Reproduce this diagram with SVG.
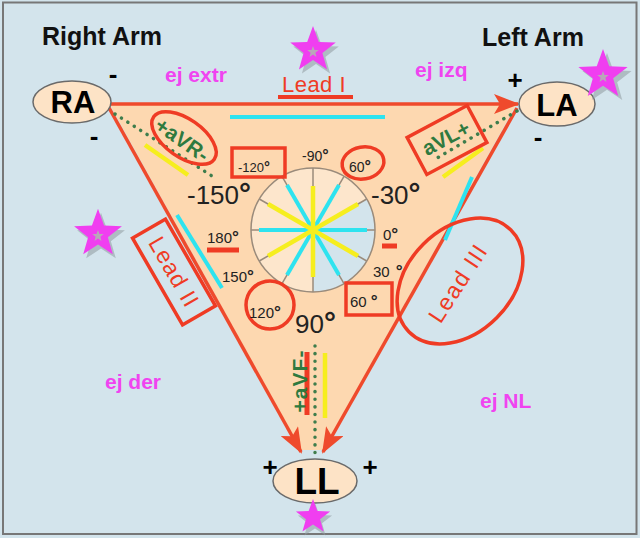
<svg xmlns="http://www.w3.org/2000/svg" width="640" height="538" viewBox="0 0 640 538">
<defs>
<style>
text { font-family: "Liberation Sans", Arial, sans-serif; }
.title { font-size: 25px; font-weight: bold; fill: #111; }
.node ellipse { fill: #fde3c6; stroke: #6a6a6a; stroke-width: 1.5; }
.nodelbl { font-weight: bold; fill: #000; text-anchor: middle; }
.sign { font-weight: bold; font-size: 26px; fill: #000; text-anchor: middle; }
.ej { font-size: 21px; font-weight: bold; fill: #f044f0; }
.redtxt { fill: #ef3b24; text-anchor: middle; }
.box { fill: none; stroke: #ef3b24; stroke-width: 3.5; }
.grn { fill: #2f7a3f; font-weight: bold; text-anchor: middle; }
.gdot { stroke: #3e7d4c; stroke-width: 3.5; stroke-dasharray: 0.1 7.5; stroke-linecap: round; fill: none; }
.cy { stroke: #2ee3ef; stroke-width: 4; }
.ye { stroke: #f6ee1e; stroke-width: 4.5; }
.spoke { stroke: #9a8b7b; stroke-width: 1.5; }
.deg { fill: #222; }
.o { font-weight: bold; font-size: 1.15em; }
.edge { stroke: #ef4a2c; stroke-width: 3.5; fill: none; marker-end: url(#ah); }
.star { fill: #f03ef0; }
.shadow { fill: #8f9aa0; opacity: 0.55; }
.inner { fill: #b9a7b9; }
.bar { stroke: #ef3b24; stroke-width: 5; }
</style>
<marker id="ah" markerUnits="userSpaceOnUse" markerWidth="26" markerHeight="20" viewBox="0 0 26 20" refX="24" refY="10" orient="auto">
<path d="M0,0 L26,10 L0,20 L6,10 z" fill="#ef4a2c"/>
</marker>
<path id="star" d="M0,-24 L5.8,-8 L22.8,-7.4 L9.4,3 L14.1,19.4 L0,9.9 L-14.1,19.4 L-9.4,3 L-22.8,-7.4 L-5.8,-8 Z"/>
<path id="istar" d="M0,-6 L1.5,-2 L5.7,-1.9 L2.4,0.8 L3.5,4.9 L0,2.5 L-3.5,4.9 L-2.4,0.8 L-5.7,-1.9 L-1.5,-2 Z"/>
</defs>

<rect x="0" y="0" width="640" height="538" fill="#d3e4ec"/>
<rect x="3" y="2.5" width="633.5" height="531.5" fill="none" stroke="#777" stroke-width="2"/>

<!-- triangle body -->
<polygon points="110,105 516,105 323,450 301,450" fill="#fdd8b0"/>

<!-- center circle -->
<g id="axis-circle">
<circle cx="313" cy="230" r="62" fill="#fde6cc"/>
<path d="M313,230 L366.7,199 A62,62 0 0 1 313,292 Z" fill="#d3e4ec"/>
<circle cx="313" cy="230" r="62" fill="none" stroke="#9a8b7b" stroke-width="1.5"/>
<g class="spoke">
<line x1="313" y1="230" x2="375" y2="230"/>
<line x1="313" y1="230" x2="366.7" y2="261"/>
<line x1="313" y1="230" x2="344" y2="283.7"/>
<line x1="313" y1="230" x2="313" y2="292"/>
<line x1="313" y1="230" x2="282" y2="283.7"/>
<line x1="313" y1="230" x2="259.3" y2="261"/>
<line x1="313" y1="230" x2="251" y2="230"/>
<line x1="313" y1="230" x2="259.3" y2="199"/>
<line x1="313" y1="230" x2="282" y2="176.3"/>
<line x1="313" y1="230" x2="313" y2="168"/>
<line x1="313" y1="230" x2="344" y2="176.3"/>
<line x1="313" y1="230" x2="366.7" y2="199"/>
</g>
<line class="cy" x1="259" y1="230" x2="367" y2="230"/>
<line class="cy" x1="287" y1="185" x2="339" y2="275"/>
<line class="cy" x1="339" y1="185" x2="287" y2="275"/>
<line class="ye" x1="313" y1="186" x2="313" y2="277"/>
<line class="ye" x1="268" y1="204" x2="358" y2="256"/>
<line class="ye" x1="358" y1="204" x2="268" y2="256"/>
</g>

<!-- degree labels -->
<g id="degree-labels">
<text class="deg" x="302" y="161" font-size="14">-90<tspan class="o">°</tspan></text>
<rect class="box" x="232" y="148" width="53" height="29"/>
<text class="deg" x="238" y="172" font-size="13">-120<tspan class="o">°</tspan></text>
<ellipse class="box" cx="363" cy="163" rx="21" ry="16" transform="rotate(-10 363 163)"/>
<text class="deg" x="349" y="172" font-size="14">60<tspan class="o">°</tspan></text>
<text class="deg" x="371" y="204" font-size="26">-30<tspan class="o">°</tspan></text>
<text class="deg" x="187" y="204" font-size="26">-150<tspan class="o">°</tspan></text>
<text class="deg" x="207" y="243" font-size="15">180<tspan class="o">°</tspan></text>
<line class="bar" x1="207" y1="250" x2="239" y2="250"/>
<text class="deg" x="383" y="240" font-size="15">0<tspan class="o">°</tspan></text>
<line class="bar" x1="382" y1="246" x2="397" y2="246"/>
<text class="deg" x="222" y="282" font-size="15">150<tspan class="o">°</tspan></text>
<text class="deg" x="373" y="277" font-size="15">30<tspan class="o" dx="6">°</tspan></text>
<circle class="box" cx="270" cy="305" r="24"/>
<text class="deg" x="249" y="318" font-size="15">120<tspan class="o">°</tspan></text>
<rect class="box" x="346" y="283" width="46" height="32"/>
<text class="deg" x="350" y="307" font-size="15">60<tspan class="o" dx="4">°</tspan></text>
<text class="deg" x="295" y="333" font-size="26">90<tspan class="o">°</tspan></text>
</g>

<!-- connectors: triangle edges -->
<g id="connectors">
<line class="edge" x1="110" y1="104" x2="518" y2="104"/>
<line class="edge" x1="108" y1="106" x2="301" y2="452"/>
<line class="edge" x1="517" y1="108" x2="323" y2="452"/>
</g>

<!-- lead markers -->
<g id="lead-I">
<text class="redtxt" x="314" y="92" font-size="22" letter-spacing="0.5">Lead I</text>
<line x1="278" y1="97" x2="353" y2="97" stroke="#ef3b24" stroke-width="4"/>
<line class="cy" x1="230" y1="117" x2="385" y2="117" stroke-width="3"/>
</g>

<g id="lead-II">
<line class="cy" x1="177" y1="215" x2="222" y2="288"/>
<g transform="translate(174,272) rotate(60)">
<rect class="box" x="-50" y="-19" width="100" height="38"/>
<text class="redtxt" x="0" y="8" font-size="23" letter-spacing="1">Lead II</text>
</g>
</g>

<g id="lead-III">
<line class="cy" x1="472" y1="177" x2="445" y2="240"/>
<ellipse class="box" cx="460" cy="281" rx="72" ry="52" transform="rotate(-45 460 281)"/>
<text class="redtxt" font-size="23" letter-spacing="1.5" transform="translate(458,283) rotate(-57)" y="8">Lead III</text>
</g>

<g id="aVR">
<line class="gdot" x1="115" y1="114" x2="212" y2="176"/>
<line class="ye" x1="145" y1="145" x2="188" y2="175"/>
<ellipse class="box" cx="184" cy="138" rx="37" ry="19" transform="rotate(35 184 138)"/>
<text class="grn" font-size="21" transform="translate(182,140) rotate(35)" y="7">+aVR-</text>
</g>

<g id="aVL">
<line class="gdot" x1="517" y1="111" x2="432" y2="161"/>
<line class="ye" x1="443" y1="177" x2="483" y2="148"/>
<g transform="translate(447,140) rotate(-28)">
<rect class="box" x="-34" y="-21" width="68" height="42"/>
<text class="grn" x="0" y="5" font-size="21">aVL+</text>
</g>
</g>

<g id="aVF">
<line class="gdot" x1="315" y1="346" x2="315" y2="456"/>
<line x1="307" y1="352" x2="307" y2="415" stroke="#ef3b24" stroke-width="5"/>
<line class="ye" x1="325" y1="353" x2="325" y2="418"/>
<text class="grn" font-size="21" letter-spacing="1" transform="translate(300,381) rotate(-90)" y="7">+aVF-</text>
</g>

<!-- nodes -->
<g id="RA" class="node">
<text class="title" x="42" y="45">Right Arm</text>
<ellipse cx="72" cy="102" rx="39" ry="21"/>
<text class="nodelbl" x="73" y="113" font-size="31">RA</text>
<text class="sign" x="113" y="83">-</text>
<text class="sign" x="94" y="145">-</text>
</g>

<g id="LA" class="node">
<text class="title" x="482" y="46">Left Arm</text>
<ellipse cx="557" cy="104" rx="38" ry="22"/>
<text class="nodelbl" x="557" y="116" font-size="31">LA</text>
<text class="sign" x="515" y="89">+</text>
<text class="sign" x="538" y="146">-</text>
</g>

<g id="LL" class="node">
<ellipse cx="315" cy="481" rx="42" ry="22"/>
<text class="nodelbl" x="317" y="494" font-size="37">LL</text>
<text class="sign" x="270" y="476">+</text>
<text class="sign" x="370" y="476">+</text>
</g>

<!-- annotations -->
<g id="annotations">
<text class="ej" x="165" y="82">ej extr</text>
<text class="ej" x="415" y="77">ej izq</text>
<text class="ej" x="105" y="389">ej der</text>
<text class="ej" x="480" y="408">ej NL</text>
</g>

<!-- stars -->
<g id="stars">
<use href="#star" class="shadow" transform="translate(316,54)"/>
<use href="#star" class="star" transform="translate(313,50)"/>
<use href="#istar" class="inner" transform="translate(313,52)"/>
<use href="#star" class="shadow" transform="translate(607,79) scale(1.08)"/>
<use href="#star" class="star" transform="translate(603,75) scale(1.08)"/>
<use href="#istar" class="inner" transform="translate(603,77)"/>
<use href="#star" class="shadow" transform="translate(101,238) scale(1.05)"/>
<use href="#star" class="star" transform="translate(98,234) scale(1.05)"/>
<use href="#istar" class="inner" transform="translate(98,236)"/>
<use href="#star" class="shadow" transform="translate(315,521) scale(0.75)"/>
<use href="#star" class="star" transform="translate(313,517) scale(0.75)"/>
</g>
</svg>
